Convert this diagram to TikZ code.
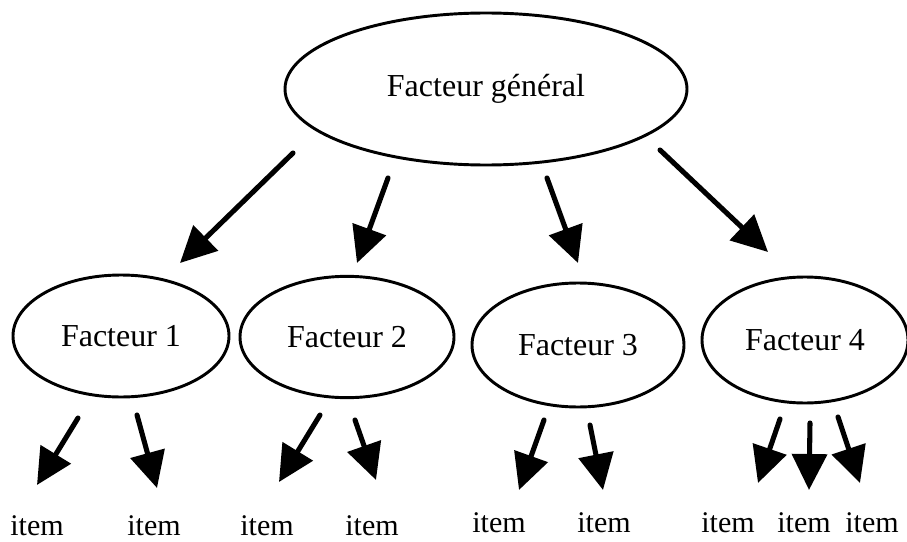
\documentclass[tikz,border=0pt]{standalone}
\usepackage{fontspec}
\setmainfont{Liberation Serif}
\usetikzlibrary{shapes.geometric,arrows.meta}

\tikzset{every picture/.style={line width=0.75pt}}
\tikzset{
  facteur/.style={draw, ellipse, line width=2.2pt, inner sep=0pt, font=\fontsize{24}{28}\selectfont},
  itemlbl/.style={anchor=base, inner sep=0pt, font=\fontsize{22.5}{26}\selectfont},
  fleche/.style={line width=3.8pt, line cap=round, -{Triangle[length=27pt,width=26pt]}},
}

\begin{document}
\begin{tikzpicture}[x=0.75pt,y=0.75pt,yscale=-1,xscale=1]
\useasboundingbox (0,0) rectangle (907,542);

% Ellipses
\node [facteur, minimum width=301.5pt, minimum height=114pt] (gen) at (486,89) {Facteur général};
\node [facteur, minimum width=162pt, minimum height=91.5pt] (f1) at (121,336) {Facteur 1};
\node [facteur, minimum width=160.5pt, minimum height=91pt] (f2) at (347,337) {Facteur 2};
\node [facteur, minimum width=159pt, minimum height=93pt] (f3) at (578,345) {Facteur 3};
\node [facteur, minimum width=154.5pt, minimum height=94.5pt] (f4) at (805,340) {Facteur 4};

% Text Node
\node [itemlbl] (it1) at (37,535) {item};
\node [itemlbl] (it2) at (154,535) {item};
\node [itemlbl] (it3) at (267,535) {item};
\node [itemlbl] (it4) at (372,535) {item};
\node [itemlbl] (it5) at (499,532) {item};
\node [itemlbl] (it6) at (604,532) {item};
\node [itemlbl] (it7) at (728,532) {item};
\node [itemlbl] (it8) at (804,532) {item};
\node [itemlbl] (it9) at (872,532) {item};

% arrow ends, general -> factors
\coordinate (g1) at (293,153);  \coordinate (g1t) at (180,263);
\coordinate (g2) at (388,178);  \coordinate (g2t) at (357,263);
\coordinate (g3) at (547,178);  \coordinate (g3t) at (578,263);
\coordinate (g4) at (660,150);  \coordinate (g4t) at (768,252);
% arrow ends, factors -> items
\coordinate (a1) at (78,418);   \coordinate (a1t) at (37,485);
\coordinate (a2) at (137,415);  \coordinate (a2t) at (157,488);
\coordinate (a3) at (320,415);  \coordinate (a3t) at (279,482);
\coordinate (a4) at (355,420);  \coordinate (a4t) at (376,480);
\coordinate (a5) at (544,420);  \coordinate (a5t) at (519,490);
\coordinate (a6) at (590,425);  \coordinate (a6t) at (603,490);
\coordinate (a7) at (780,419);  \coordinate (a7t) at (758,483);
\coordinate (a8) at (810,423);  \coordinate (a8t) at (809,490);
\coordinate (a9) at (838,417);  \coordinate (a9t) at (860,483);

%Straight Lines
\draw [fleche] (g1) -- (g1t);
\draw [fleche] (g2) -- (g2t);
\draw [fleche] (g3) -- (g3t);
\draw [fleche] (g4) -- (g4t);
%Straight Lines
\draw [fleche] (a1) -- (a1t);
\draw [fleche] (a2) -- (a2t);
\draw [fleche] (a3) -- (a3t);
\draw [fleche] (a4) -- (a4t);
\draw [fleche] (a5) -- (a5t);
\draw [fleche] (a6) -- (a6t);
\draw [fleche] (a7) -- (a7t);
\draw [fleche] (a8) -- (a8t);
\draw [fleche] (a9) -- (a9t);

\end{tikzpicture}
\end{document}
